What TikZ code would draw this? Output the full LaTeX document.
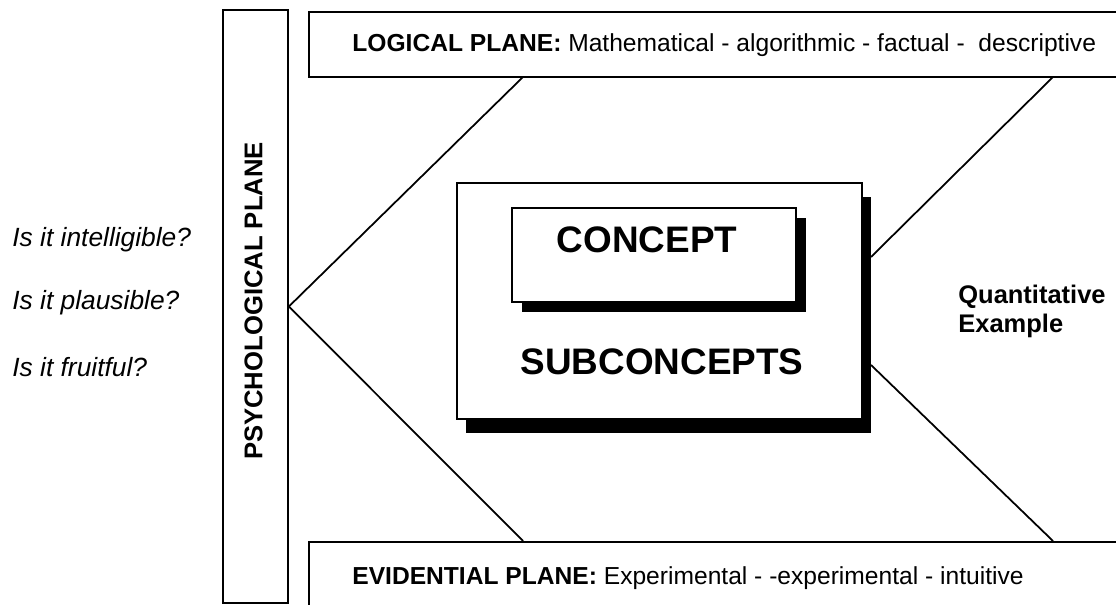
\documentclass[tikz,border=0pt]{standalone}
\usepackage{fontspec}
\setmainfont{Liberation Sans}
\usetikzlibrary{shadows}

\begin{document}
\begin{tikzpicture}[x=1cm,y=1cm]
\tikzset{
  planebox/.style={draw,line width=1pt,inner sep=0pt},
  planetext/.style={anchor=west,inner sep=0pt,font=\fontsize{14}{16}\selectfont},
  outerbox/.style={draw,line width=1pt,fill=white,inner sep=0pt,
    drop shadow={shadow xshift=0.18cm,shadow yshift=-0.28cm,fill=black,opacity=1}},
  innerbox/.style={draw,line width=1pt,fill=white,inner sep=0pt,
    drop shadow={shadow xshift=0.20cm,shadow yshift=-0.20cm,fill=black,opacity=1}},
  bigword/.style={inner sep=0pt,font=\fontsize{21}{24}\selectfont\bfseries},
  question/.style={anchor=west,inner sep=0pt,font=\fontsize{15}{18}\selectfont\itshape},
  link/.style={line width=1pt}
}
\useasboundingbox (0,0) rectangle (22.32,12.10);
\clip (0,0) rectangle (22.32,12.10);
% planes
\node[planebox,minimum width=1.30cm,minimum height=11.86cm] (n_psych) at (5.11,5.97) {};
\node[rotate=90,inner sep=0pt,font=\fontsize{14.6}{16}\selectfont\bfseries] (n_psychtext) at (5.07,6.08) {PSYCHOLOGICAL PLANE};
\node[planebox,anchor=west,minimum width=17cm,minimum height=1.30cm] (n_logic) at (6.16,11.21) {};
\node[planetext] (n_logictext) at (7.04,11.20) {\textbf{LOGICAL PLANE:} Mathematical - algorithmic - factual - \ descriptive};
\node[planebox,anchor=north west,minimum width=17cm,minimum height=1.60cm] (n_evid) at (6.16,1.28) {};
\node[planetext] (n_evidtext) at (7.04,0.54) {\textbf{EVIDENTIAL PLANE:} Experimental - -experimental - intuitive};
% concept boxes
\node[outerbox,minimum width=8.10cm,minimum height=4.72cm] (n_outer) at (13.19,6.08) {};
\node[innerbox,minimum width=5.68cm,minimum height=1.88cm] (n_inner) at (13.08,7.00) {};
\node[bigword] (n_concept) at (12.94,7.30) {CONCEPT};
\node[bigword] (n_sub) at (13.24,4.86) {SUBCONCEPTS};
% side texts
\node[question] (n_q1) at (0.24,7.30) {Is it intelligible?};
\node[question] (n_q2) at (0.24,6.04) {Is it plausible?};
\node[question] (n_q3) at (0.24,4.76) {Is it fruitful?};
\node[anchor=west,align=left,inner sep=0pt,font=\fontsize{14.5}{16.5}\selectfont\bfseries] (n_quant) at (19.16,5.87) {Quantitative\\Example};
% connectors
\coordinate (c_logicL) at (10.46,10.56);
\coordinate (c_logicR) at (21.06,10.56);
\coordinate (c_evidL) at (10.46,1.28);
\coordinate (c_evidR) at (21.06,1.28);
\coordinate (c_outerA) at (17.42,6.96);
\coordinate (c_outerB) at (17.42,4.80);
\draw[link] (n_psych.east) -- (c_logicL);
\draw[link] (n_psych.east) -- (c_evidL);
\draw[link] (c_outerA) -- (c_logicR);
\draw[link] (c_outerB) -- (c_evidR);
\end{tikzpicture}
\end{document}
